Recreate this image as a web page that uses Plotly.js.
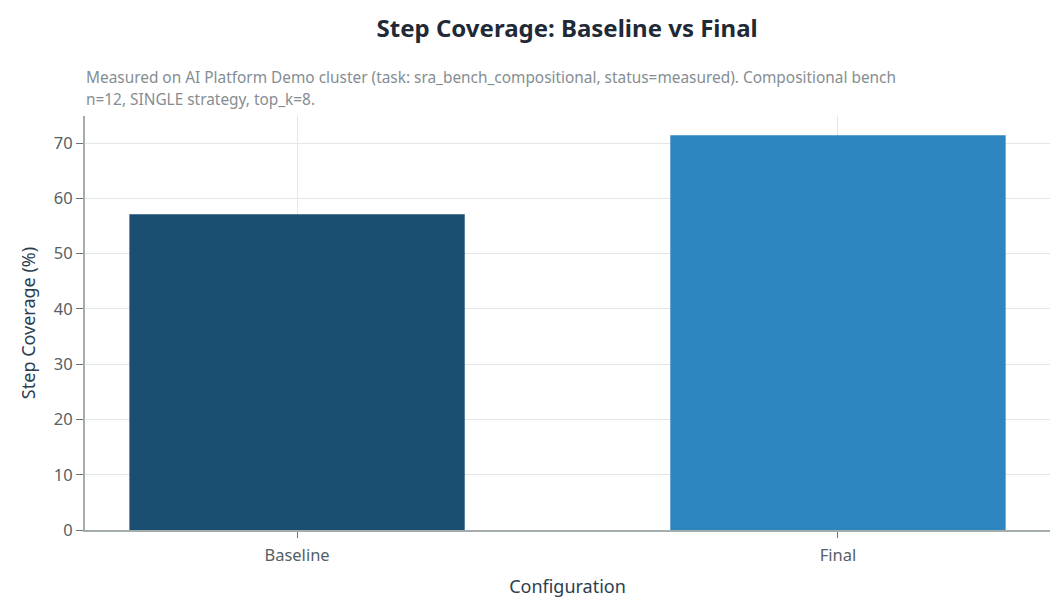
<!DOCTYPE html>
<html>
<head>
<meta charset="utf-8">
<script src="https://cdn.plot.ly/plotly-3.0.1.min.js"></script>
<style>
  html, body { margin: 0; padding: 0; background: #fff; }
  #chart { width: 1064px; height: 615px; }
</style>
</head>
<body>
<div id="chart"></div>
<script>
// step coverage per configuration (%)
var configs = ['Baseline', 'Final'];
var coverage = [57.14, 71.43];
var barColors = ['#1b4f72', '#2e86c1'];
var subtitleLines = [
  'Measured on AI Platform Demo cluster (task: sra_bench_compositional, status=measured). Compositional bench',
  'n=12, SINGLE strategy, top_k=8.'
];

var fontFam = '"Noto Sans", "Open Sans", sans-serif';

var notes = subtitleLines.map(function (t, i) {
  return {
    text: t,
    xref: 'paper', yref: 'paper',
    x: 0, y: 1.0, xanchor: 'left', yanchor: 'middle',
    xshift: -1,
    yshift: 39 - i * 22,
    align: 'left',
    showarrow: false,
    font: { family: fontFam, size: 15.4, color: '#858d92' }
  };
});

var layout = {
  width: 1064,
  height: 615,
  margin: { l: 85, r: 14, t: 116, b: 85 },
  paper_bgcolor: '#ffffff',
  plot_bgcolor: '#ffffff',
  font: { family: fontFam, color: '#555f66' },
  title: {
    text: '<b>Step Coverage: Baseline vs Final</b>',
    font: { family: fontFam, size: 24, color: '#1f2a36' },
    x: 0.533,
    xanchor: 'center',
    y: 0.953,
    yanchor: 'middle'
  },
  annotations: notes,
  bargap: 0.38,
  showlegend: false,
  xaxis: {
    title: { text: 'Configuration', font: { family: fontFam, size: 18, color: '#2c3e50' }, standoff: 16 },
    range: [-0.392, 1.392],
    showgrid: true,
    gridcolor: '#e6e6e6',
    showline: true,
    linecolor: '#a3adad',
    linewidth: 2,
    ticks: 'outside',
    ticklen: 6,
    tickcolor: '#6b7378',
    ticklabelstandoff: 3,
    tickfont: { family: fontFam, size: 16.5, color: '#555f66' },
    zeroline: false
  },
  yaxis: {
    title: { text: 'Step Coverage (%)', font: { family: fontFam, size: 18, color: '#2c3e50' }, standoff: 14 },
    range: [0, 74.9],
    dtick: 10,
    showgrid: true,
    gridcolor: '#e6e6e6',
    showline: true,
    linecolor: '#a3adad',
    linewidth: 2,
    ticks: 'outside',
    ticklen: 7,
    tickcolor: '#6b7378',
    tickfont: { family: fontFam, size: 16.5, color: '#555f66' },
    zeroline: false
  }
};

Plotly.newPlot('chart', [{
  type: 'bar',
  x: configs,
  y: coverage,
  marker: { color: barColors },
  hoverinfo: 'x+y'
}], layout, { displayModeBar: false, staticPlot: true });
</script>
</body>
</html>
